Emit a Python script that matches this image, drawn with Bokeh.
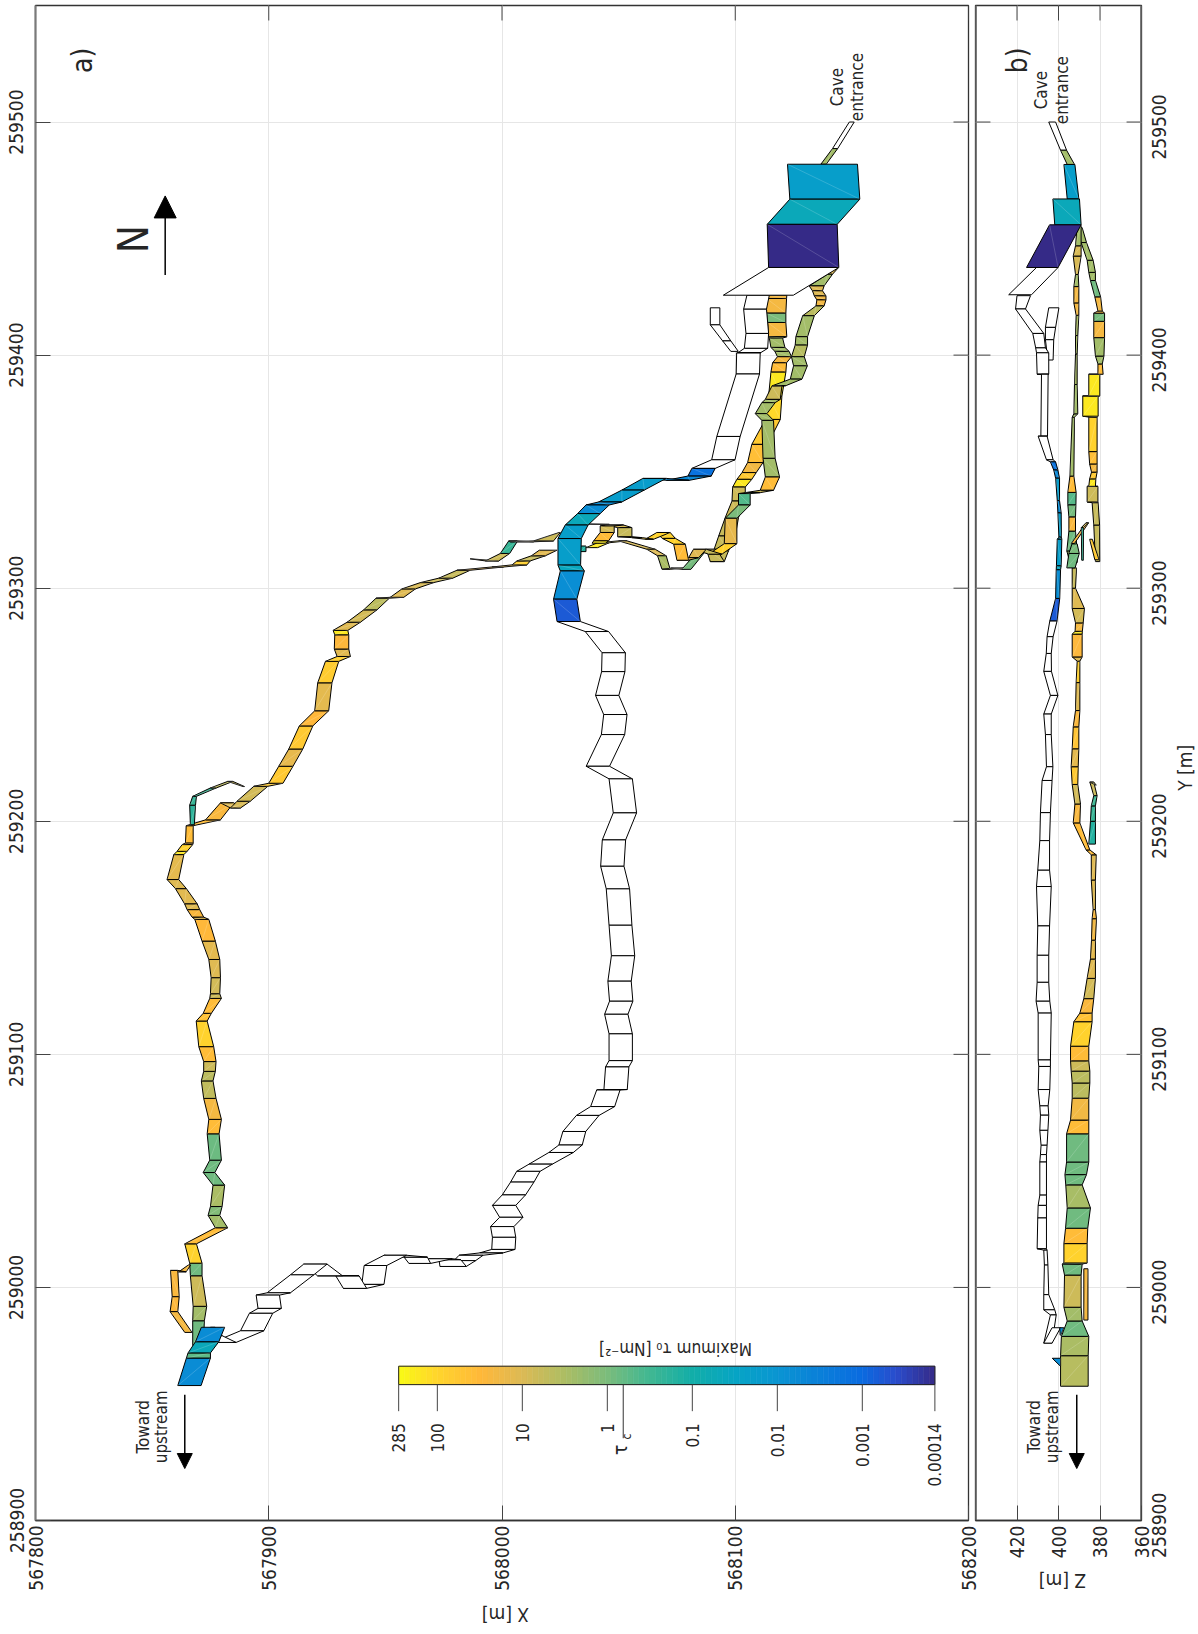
from math import pi, log10, isnan
import numpy as np
from bokeh.plotting import figure
from bokeh.models import FixedTicker, PrintfTickFormatter, Arrow, NormalHead
from bokeh.layouts import row, column
from bokeh.core.properties import value
from bokeh.embed import file_html
from bokeh.resources import INLINE

W = float("nan")  # dry section: no shear stress value

X_TICKS = [567800, 567900, 568000, 568100, 568200]
Y_TICKS = [258900, 259000, 259100, 259200, 259300, 259400, 259500]
Z_TICKS = [360, 380, 400, 420]

# colour scale: maximum shear stress
CM_TAU = [285, 100, 30, 10, 3.4, 1, 0.35, 0.1, 0.03, 0.01, 0.001, 0.0004, 0.00014]
CM_HEX = ["#f9fb15", "#ffd52c", "#ffb83a", "#dcba55", "#b0bd62", "#7bbc7c", "#45b890", "#12aea8",
          "#06a4c5", "#0a95d2", "#0a6be0", "#2a4ccc", "#352a87"]
CB_TICKS = [285, 100, 10, 1, 0.1, 0.01, 0.001, 0.00014]
CB_LABELS = ["285", "100", "10", "1", "0.1", "0.01", "0.001", "0.00014"]
TAU_C = 0.65

# plan view sections: (Y, X left, X right, tau of the segment toward the next row)
plan_entrance = [(259500, 568148.9, 568151, W), (259488.6, 568141.7, 568143.9, 2.5), (259481.9, 568136.7, 568139, W)]
plan_hall = [(259481.9, 568122.4, 568152.4, 0.02), (259466.9, 568123.4, 568153.4, 0.05),
             (259456.1, 568113.7, 568143.7, 0.00014), (259437.6, 568114.3, 568144.4, W), (259425.7, 568094.9, 568124.9, W)]
plan_spur_white = [(259420.3, 568089.3, 568093.4, W), (259413, 568089.3, 568093.4, W), (259406.1, 568094.6, 568098.1, W), (259401.6, 568098.1, 568101.3, W)]
plan_upper = [
    (259425.7, 568105, 568114.6, W), (259419.7, 568103.6, 568113.4, W), (259409.3, 568104.6, 568114.3, W),
    (259402.9, 568103.9, 568113.9, W), (259401.1, 568101.3, 568111, W), (259400.9, 568100.6, 568110.7, W),
    (259391.9, 568100.4, 568110.4, W), (259365.1, 568092.1, 568102.1, W), (259355.1, 568089.9, 568099.9, W),
    (259351.4, 568081.4, 568091.4, 0.0015), (259348.1, 568079.7, 568089.7, 0.005), (259346.3, 568070.4, 568080.4, 0.005),
    (259347.1, 568060.4, 568070.4, 0.018), (259342.1, 568051.4, 568061, 0.018), (259337, 568041.4, 568051.4, 0.006),
    (259335.7, 568036, 568046, 0.006), (259332, 568032.4, 568042.1, 0.05), (259327.1, 568027.1, 568036.9, 0.02),
    (259321.3, 568024, 568034, 0.02), (259309.9, 568024, 568033.7, 0.04), (259307.4, 568025, 568035.3, 0.007),
    (259295.3, 568022.1, 568032.1, 0.0006), (259285.7, 568023.6, 568033.6, W), (259281.4, 568035.7, 568045.7, W),
    (259272.3, 568042.9, 568052.9, W), (259264.2, 568042.7, 568052.7, W), (259254, 568040.1, 568050.1, W),
    (259245.8, 568043.6, 568053.6, W), (259237.2, 568042.6, 568052.6, W), (259223.6, 568036.1, 568046.1, W),
    (259218.2, 568045.9, 568055.9, W), (259203.6, 568047.7, 568057.7, W), (259192, 568043, 568053, W),
    (259180.7, 568042.3, 568052.3, W), (259171, 568044.7, 568054.7, W), (259155.4, 568045.9, 568055.7, W),
    (259142.3, 568046.9, 568056.9, W), (259131.4, 568045.4, 568055.4, W), (259122.8, 568046.1, 568056.1, W),
    (259117.2, 568044, 568054, W), (259108.8, 568045.9, 568055.9, W), (259097.3, 568045.9, 568055.9, W),
    (259094.6, 568044.4, 568054.4, W), (259084.9, 568043.7, 568053.7, W), (259084.7, 568040.6, 568050.6, W),
    (259077.6, 568038, 568048.3, W), (259073.8, 568031.9, 568041.6, W), (259066.9, 568026.1, 568035.9, W),
    (259061.1, 568024.4, 568034.4, W), (259057.9, 568020.1, 568030.6, W), (259052.9, 568011.6, 568021.6, W),
    (259049.8, 568006.3, 568016.3, W), (259045.2, 568003.7, 568013.7, W), (259039.7, 568000.1, 568010.1, W),
    (259035.2, 567995.9, 568005.9, W), (259030.1, 567999, 568009, W), (259026.1, 567995.1, 568005.1, W),
    (259021.5, 567995.9, 568005.9, W), (259016.3, 567995.6, 568005.6, W), (259014.8, 567990.4, 568000.4, W),
    (259013.8, 567981.6, 567991.9, W), (259011.5, 567979.4, 567988.7, W), (259009, 567973.4, 567984.7, W),
    (259011.9, 567973, 567982.3, W), (259012.3, 567968.7, 567978.7, W), (259010.3, 567960.1, 567969.4, W),
    (259013, 567958, 567968, W), (259013.8, 567949.4, 567959.1, W), (259009.4, 567940.9, 567950.6, W),
    (259001.3, 567939.9, 567949.4, W), (258999.6, 567932, 567942, W), (259005, 567928.7, 567938.7, W),
    (259005, 567920.9, 567931.6, W), (259010, 567915, 567925, W), (259005.4, 567909.3, 567919.3, W),
    (258997.7, 567899.3, 567909.3, W), (258996.7, 567894.6, 567904.6, W), (258991, 567895.4, 567905.4, W),
    (258988.9, 567891.7, 567901.7, W), (258981.4, 567887.9, 567897.9, W), (258976.4, 567876, 567886, W),
    (258979.3, 567873, 567880, W), (258982.9, 567875, 567877, W)]
plan_up_blue = [(258957.9, 567861, 567871, 0.006), (258969.7, 567864.7, 567875, 0.55), (258971.9, 567865.4, 567875, 0.05),
                (258976.7, 567868.6, 567878.6, 0.006), (258982.9, 567871.1, 567881.1, W)]
plan_lower = [
    (258975, 567867.4, 567872, 0.8), (258985.7, 567867.4, 567872.4, 2.5), (258991.9, 567867.6, 567873.4, 7),
    (259005, 567866.4, 567871.4, 0.8), (259010.4, 567866.1, 567871.4, 90), (259018.7, 567864, 567869, 35),
    (259025.6, 567877.1, 567882.4, 2.5), (259030.9, 567874, 567879, 1.2), (259034.7, 567875, 567880, 3),
    (259043.9, 567876.1, 567881.1, 0.8), (259049.3, 567871.9, 567876.9, 0.8), (259054.6, 567874.7, 567879.7, 0.75),
    (259065.9, 567873.6, 567878.7, 35), (259072.1, 567874.3, 567879.7, 22), (259081.1, 567872.1, 567877.4, 5),
    (259088.6, 567871.1, 567876.1, 4.5), (259092.7, 567872.1, 567877.1, 7), (259096.9, 567872.1, 567877.4, 35),
    (259103.3, 567870, 567876.4, 90), (259114.3, 567868.9, 567873.6, 45), (259117.6, 567871.9, 567875.4, 35),
    (259124, 567874.7, 567879.7, 7), (259126, 567875, 567879, 8), (259132.9, 567875.3, 567879.3, 11),
    (259140.7, 567874.3, 567879, 13), (259148.6, 567871.4, 567877.1, 30), (259157.9, 567868.3, 567874.3, 11),
    (259158.9, 567867.1, 567872.1, 25), (259162.1, 567865, 567870.4, 11), (259164.6, 567863.9, 567869.3, 12),
    (259171.1, 567860, 567864.7, 11), (259175, 567856.4, 567861.4, 13), (259185.7, 567859.3, 567863.6, 170),
    (259187.1, 567860.7, 567865, 90), (259190, 567862.9, 567867.4, 40), (259190.7, 567864.3, 567867.6, 35),
    (259198.1, 567864.6, 567867.6, 35), (259200.6, 567872.9, 567879.3, 25), (259207.9, 567879.3, 567885, 11),
    (259205.7, 567883.6, 567887.9, 9), (259208.6, 567886.4, 567892.1, 8), (259215, 567893.6, 567899.6, 60),
    (259216.3, 567900, 567906.1, 60), (259223.6, 567904.3, 567910.4, 14), (259231, 567908.6, 567914.6, 60),
    (259240.9, 567913.1, 567918.9, 30), (259247.4, 567919.7, 567925.7, 13), (259259.4, 567921, 567927.1, 70),
    (259268.6, 567924.3, 567930, 80), (259270.7, 567929.3, 567935, 12), (259273.9, 567928.1, 567934.3, 28),
    (259280, 567928.3, 567934.3, 170), (259281.9, 567927.6, 567933.9, 11), (259285.4, 567933.6, 567939.3, 8),
    (259290.7, 567940.7, 567946.4, 4.5), (259295.7, 567946, 567951.7, 22), (259296.1, 567952.1, 567957.9, 11),
    (259299.7, 567957.1, 567962.9, 9), (259302.4, 567965, 567970.7, 7), (259304.3, 567972.9, 567978.9, 6),
    (259307.7, 567980.7, 567986.4, 25), (259309.1, 567995.7, 568000.7, 60), (259310, 568004.3, 568010.7, 80),
    (259311.7, 568006.4, 568012.1, 6), (259313.9, 568012.6, 568018.6, 12), (259316.3, 568016, 568023.6, W)]
plan_loop = [(259009.6, 567865.5, 567866.5, 22), (259006.7, 567861.4, 567864.6, 35), (259007.3, 567857.9, 567861, 25),
             (258996, 567858.6, 567861.6, 28), (258989.6, 567857.7, 567861, 22), (258980.7, 567864, 567867.1, W)]
plan_teal_spur = [(259198.5, 567866.4, 567868.1, 0.2), (259206.9, 567866.1, 567868.6, 0.25), (259210.7, 567867.4, 567869, 0.3),
                  (259214.3, 567875, 567877.5, 5), (259217.1, 567882.4, 567884.6, 7), (259214.9, 567889, 567889.6, W)]
plan_spur2 = [(259312.6, 567986.3, 567986.5, 7), (259311.7, 567992.9, 567998.6, 7), (259314.9, 567999.3, 568003.3, 0.25),
              (259320.3, 568002.9, 568006.7, 7), (259319.9, 568003.6, 568013.6, 9), (259320.3, 568013.6, 568022.1, 7),
              (259323.9, 568024.5, 568025, W)]
plan_strand_a = [(259317.4, 568036, 568041, 170), (259319.5, 568041, 568046, 170), (259320.3, 568050, 568053.6, 9),
                 (259316.7, 568062.1, 568065.7, 10), (259313.9, 568066.7, 568070.4, 3), (259308.1, 568068.6, 568072.1, 7),
                 (259308.6, 568072.5, 568078, 7), (259308.1, 568077.1, 568081, 0.9), (259316.3, 568084.3, 568087.6, 0.5),
                 (259316.7, 568087.6, 568092, 6), (259311.4, 568089.3, 568095.3, W)]
plan_teal_box = [(259315.7, 568033.6, 568036, 0.15), (259318.1, 568033.6, 568036, W)]
plan_thin = [(259327.5, 568037, 568038, 9), (259327.4, 568044.3, 568046, W)]
plan_strand_e = [
    (259425.7, 568114.6, 568122.1, 22), (259424.3, 568113.4, 568122, 22), (259418, 568113.4, 568121.7, 1),
    (259414, 568113.9, 568121.7, 22), (259407.9, 568114.3, 568122.1, 2.5), (259407.3, 568114.6, 568120.3, 2.5),
    (259403.3, 568115.3, 568121.3, 2.5), (259401.6, 568117, 568123.1, 2.5), (259399.3, 568118.1, 568124.1, 22),
    (259396.7, 568116, 568122, 35), (259392.7, 568115.3, 568121.7, 170), (259382.4, 568114.3, 568120, 110),
    (259372.4, 568112.9, 568119.3, 60), (259361.7, 568107.1, 568113.9, 40), (259353.9, 568105.3, 568111.9, 20),
    (259349.6, 568102.9, 568109, 60), (259346.7, 568100.7, 568107.1, 170), (259343.4, 568098.9, 568104.3, 7),
    (259337.4, 568098.6, 568104.3, 7), (259330.3, 568095.7, 568101.4, 6), (259322.4, 568092.9, 568100, 6),
    (259316, 568090.7, 568097.1, 6), (259311.4, 568089.3, 568095.3, W)]
plan_strand_r2 = [
    (259437.6, 568141.7, 568144.3, 11), (259434.7, 568139.6, 568141.7, 2.5), (259429.7, 568131.7, 568138.1, 11),
    (259427.6, 568133.1, 568137.4, 11), (259425.4, 568133.9, 568138.9, 20), (259423.7, 568135, 568138.9, 20),
    (259421.1, 568134.6, 568138.1, 4.5), (259416.9, 568128.9, 568133.9, 2.5), (259407.9, 568126, 568131, 2.5),
    (259404.3, 568125.7, 568131, 4), (259399.3, 568124.1, 568129.6, 2.5), (259395.4, 568125, 568130.9, 2.5),
    (259389.7, 568123.6, 568128.6, 2.5), (259386.9, 568116, 568121.7, 7), (259386.7, 568115.7, 568120, 7),
    (259381, 568112.9, 568119.3, 2.5), (259379.6, 568111.4, 568117.1, 2.5), (259374.9, 568108.6, 568113.6, 2.5),
    (259372, 568111.4, 568116.4, 2.5), (259355.7, 568111.9, 568117.1, 2.5), (259347.7, 568112.9, 568119, 35),
    (259342, 568110.7, 568116.4, 7), (259341, 568104.3, 568110.7, 0.45), (259340.6, 568101.4, 568106.4, 0.45),
    (259335.7, 568101.4, 568106.4, 1), (259330, 568095.7, 568100.7, 14), (259319.1, 568095.3, 568100.7, 90),
    (259314.6, 568088.6, 568094.3, 6), (259316.7, 568082.1, 568087.6, 11), (259313.1, 568080, 568084.3, 11),
    (259312, 568075, 568080, 35), (259318.9, 568073.6, 568078.6, 90), (259321.4, 568068.6, 568074.3, 90),
    (259323.9, 568066.4, 568072.1, 90), (259321, 568061.4, 568065, 90), (259321.7, 568055.7, 568060, 6),
    (259322.1, 568049.6, 568055.7, 6), (259326, 568049.6, 568055.7, 9), (259327.1, 568044.3, 568052.1, 9),
    (259326.7, 568042.1, 568048.1, 8), (259323.9, 568042.1, 568048.1, 35), (259320.3, 568039.3, 568045.7, 170),
    (259319.3, 568038.6, 568044.3, W)]

# profile sections: (Y, Z top, Z bottom, tau of the segment toward the next row)
side_entrance = [(259500, 404.7, 401.4, W), (259487.9, 399, 396.1, 2.5), (259481.8, 395.8, 392.3, W)]
side_a = [(259481.8, 397.4, 392.1, 0.02), (259467, 395.8, 390.2, W)]
side_b = [(259467, 402.7, 389.9, 0.05), (259455.9, 401.8, 389.1, W)]
side_c = [(259455.9, 404.3, 389.1, 0.00014), (259437.6, 415.4, 400.2, W)]
side_d = [(259437.6, 410.6, 400.2, W), (259425.9, 424, 413, W)]
side_spur_white = [(259420.3, 404.7, 399.8, W), (259411.9, 406.3, 401.4, W), (259406.6, 406.3, 402.3, W), (259397.9, 405.1, 402.6, W)]
side_upper = [
    (259425.5, 420, 413.5, W), (259419.8, 420.7, 415.9, W), (259409.3, 412.4, 407.1, W), (259403.1, 411, 406.3, W),
    (259401, 410.6, 404.7, W), (259391.8, 410.3, 404.7, W), (259391.8, 408.2, 405, W), (259365.2, 408.5, 405.3, W),
    (259365.2, 409.8, 405.5, W), (259355.1, 405.8, 402.6, W), (259354.2, 403.9, 401.4, 0.0015),
    (259350.7, 402.3, 400.3, 0.005), (259347.2, 401.4, 399.5, 0.018), (259337.6, 400.6, 399.5, 0.006),
    (259332.3, 400.3, 398.7, 0.02), (259321.9, 399.8, 398.6, 0.02), (259321, 400.6, 398.4, 0.02), (259309.6, 401, 398.7, 0.04),
    (259307.9, 401.1, 399, 0.007), (259295.6, 401.4, 399.4, 0.0006), (259285.9, 404.2, 400.7, W),
    (259279.2, 405.5, 402.6, W), (259272, 405.9, 403.5, W), (259264.3, 407.1, 403.4, W), (259254, 403.9, 400.3, W),
    (259246, 407.1, 403.5, W), (259237.2, 406.3, 403.5, W), (259223.4, 405.8, 402.7, W), (259217.5, 407.9, 403.1, W),
    (259203.7, 408.7, 403.9, W), (259191.7, 409, 404.3, W), (259179, 410, 404.3, W), (259172, 410.6, 403.5, W),
    (259155.1, 410, 404.3, W), (259142.5, 410.3, 404.7, W), (259130.9, 410.3, 404.7, W), (259122.8, 410.8, 404.2, W),
    (259117.7, 409.8, 403.5, W), (259097.6, 409.8, 403.9, W), (259094.8, 409.5, 403.9, W), (259084.9, 409.8, 404.2, W),
    (259077.9, 409, 405, W), (259073.9, 408.7, 404.7, W), (259067.4, 409, 405.1, W), (259061, 408.4, 405.5, W),
    (259057, 408.7, 405.8, W), (259053.8, 409, 405.8, W), (259039.6, 409, 405.8, W), (259035.2, 409.8, 405.8, W),
    (259029.8, 410, 405.8, W), (259016.6, 410.3, 405.8, W), (259016, 407.1, 405.5, W), (259009.6, 406.8, 405.1, W),
    (258996.9, 407.1, 404.7, W), (258990.4, 407.1, 401.8, W), (258988.2, 403.9, 401.1, W), (258976.1, 407.1, 403.1, W),
    (258982.7, 403.1, 399, W)]
side_lower = [
    (258957.6, 399, 385.7, 4), (258970.7, 399, 385.7, 3), (258979, 398.6, 385.4, 0.8), (258985.6, 395.8, 388.6, 2.5),
    (258991.5, 397.4, 389.1, 7), (259005.3, 397.1, 389.1, 0.8), (259010, 398.2, 388.6, 0.8), (259010.5, 397.4, 386.2, 90),
    (259018.8, 397.4, 386.2, 35), (259025.4, 396.6, 385.9, 0.8), (259034.1, 395.8, 384.6, 2.8), (259044, 396.5, 388.6, 0.8),
    (259048.4, 396.9, 386.5, 0.8), (259053.8, 396.1, 385.4, 0.8), (259065.9, 396.1, 385.4, 35), (259071.8, 394.2, 385.4, 20),
    (259081.2, 393.4, 385.4, 4.5), (259087.7, 393.4, 384.9, 4.5), (259092.8, 393.9, 384.9, 7), (259097.2, 394.2, 385.4, 35),
    (259103.5, 394.2, 385.4, 90), (259114, 392.6, 383.8, 45), (259117.7, 389.7, 383.8, 25), (259123.9, 387.8, 383, 8),
    (259132.6, 386.2, 382.2, 11), (259140.9, 384.6, 382.2, 13), (259149, 384.1, 382.2, 20), (259158.2, 383.8, 381.7, 25),
    (259162.1, 383.3, 382.2, 11), (259174.8, 384.2, 382.2, 11), (259185.6, 384.2, 381.8, 35), (259187.7, 386.7, 384.9, 35),
    (259199.3, 392.9, 389.7, 25), (259207.4, 392.1, 389.4, 8), (259215.8, 393.4, 390.7, 60), (259223.4, 393.9, 390.5, 13),
    (259231.1, 393.4, 390.2, 50), (259240.5, 392.9, 390.2, 25), (259247.5, 391.8, 389.7, 11), (259259.5, 391.5, 389.7, 80),
    (259268.7, 391, 389.7, 11), (259270.5, 393.4, 388.6, 28), (259280.3, 393.4, 388.6, 170), (259281.5, 392, 388.5, 22),
    (259285.1, 391.8, 388.1, 8), (259291.3, 393.4, 387.5, 11), (259300, 393.4, 391.8, 6), (259308.7, 393.4, 391.3, W)]
side_mid = [
    (259311, 394.5, 391, 2.5), (259316, 396, 391, 0.8), (259324.5, 395, 391.8, 25), (259330.6, 395, 391.8, 0.9),
    (259335.8, 395.5, 391.6, 0.5), (259341.1, 395.5, 391.5, 35), (259348.1, 394.5, 392.6, 2.5), (259373.4, 393.4, 392.3, 2.5),
    (259374.8, 392.6, 390.7, 2.5), (259387.4, 392.3, 391, 3), (259400.5, 391.8, 391, 3), (259408.4, 391.8, 390.7, 3),
    (259417.1, 391.5, 390.2, 22), (259422.4, 392.6, 390.2, 22), (259429.4, 392.6, 390.2, 2.5), (259434.6, 391.8, 390.5, 9),
    (259442.5, 392.9, 389.1, 9), (259446.9, 391.8, 389.1, 2.5), (259455.6, 391, 389.1, W)]
side_low = [
    (259311.4, 382.2, 380.1, 6), (259327.1, 383, 380.2, 6), (259336.7, 383.8, 380.9, 7), (259337, 386.2, 381, 7),
    (259343.7, 386.2, 381, 170), (259343.7, 385.4, 382.2, 170), (259346.9, 385, 382, 60), (259349.8, 384.1, 381.4, 22),
    (259353.3, 385, 381.4, 40), (259358.6, 385.4, 381.4, 90), (259373.4, 385.4, 381.4, 130), (259373.8, 388.3, 380.9, 170),
    (259382.5, 388.3, 380.9, 170), (259382.5, 385.4, 380.1, 170), (259391.8, 385.4, 380.1, 40), (259391.8, 381, 378.5, 35),
    (259396.2, 381, 378.9, 2.5), (259399.6, 382.2, 378.1, 2.5), (259407.5, 383, 377.8, 22), (259414.5, 383, 377.8, 0.9),
    (259418, 383, 377.8, 22), (259418.9, 381, 378.9, 22), (259425, 382.5, 379.7, 0.8), (259432, 384.6, 382.2, 2.5),
    (259435.5, 385.4, 382.2, 2.5), (259440.7, 386.2, 383.3, 2.5), (259448.3, 389.1, 386.5, 2.5), (259454.7, 391, 388.6, W)]
side_teal = [(259190.2, 385.4, 382.2, 0.15), (259200, 384.6, 382.2, 0.25), (259206.6, 384.2, 382.2, 0.3),
             (259211, 383, 381.4, 7), (259216.8, 384.9, 383, 5), (259215.5, 382, 381.8, W)]
side_loop = [(258986, 387.8, 385.8, 22), (259008, 387.8, 385.8, W)]
side_tri1 = [(258966.3, 399.2, 399, 0.006), (258969.6, 403, 399, W)]
side_tri2 = [(258979.5, 399.2, 399, 0.006), (258982.7, 399.4, 397.4, W)]
side_c1 = [(259321, 385, 383.7, 60), (259312.2, 382.5, 380.5, W)]
side_c2 = [(259308.7, 396, 392, 0.8), (259314.9, 395, 390, 1.0), (259319, 393.5, 391, W)]
side_c3 = [(259319.2, 393.8, 392.3, 25), (259328, 386.8, 385.5, 8), (259326, 389, 388, 0.25), (259312, 388.8, 388, W)]

FONT = "DejaVu Sans Condensed"
TICK_M = 6.43          # 15 px of tick, in metres
TICK_Z = 7.2           # 15 px of tick, in metres of Z

_lt = np.log10(np.array(CM_TAU))[::-1]
_rgb = np.array([[int(h[i:i + 2], 16) for i in (1, 3, 5)] for h in CM_HEX], float)[::-1]


def tau_color(t):
    if t is None or isnan(t):
        return "#ffffff"
    lv = log10(t)
    c = [int(round(np.interp(lv, _lt, _rgb[:, k]))) for k in range(3)]
    return "#%02x%02x%02x" % tuple(c)


def draw_sections(fig, rows):
    xs, ys, cols, dx, dy = [], [], [], [], []
    for a, b in zip(rows[:-1], rows[1:]):
        xs.append([a[1], a[2], b[2], b[1]])
        ys.append([a[0], a[0], b[0], b[0]])
        cols.append(tau_color(a[3]))
        if not isnan(a[3]):
            dx.append([a[1], b[2]])
            dy.append([a[0], b[0]])
    fig.patches(xs, ys, fill_color=cols, line_color="black", line_width=1.0)
    if dx:
        fig.multi_line(dx, dy, line_color="white", line_alpha=0.25, line_width=0.7)


def dress(fig, xticks, yticks):
    fig.grid.grid_line_color = "#e6e6e6"
    fig.grid.grid_line_width = 1
    fig.xgrid.ticker = FixedTicker(ticks=xticks)
    fig.ygrid.ticker = FixedTicker(ticks=yticks)
    fig.outline_line_color = "#333333"
    fig.outline_line_width = 1.3


def style_axis(a, ticks, grey=False):
    a.ticker = FixedTicker(ticks=ticks)
    a.formatter = PrintfTickFormatter(format="%d")
    a.major_tick_in = 15
    a.major_tick_out = 0
    a.minor_tick_in = 0
    a.minor_tick_out = 0
    a.major_tick_line_color = "#444444"
    a.major_tick_line_width = 1
    a.axis_line_color = "#7a7a7a" if grey else "#333333"
    a.axis_line_width = 2 if grey else 1.3
    a.major_label_orientation = pi / 2
    a.major_label_text_font = FONT
    a.major_label_text_color = "#262626"
    a.major_label_text_font_size = "19px"


def bare(fig):
    fig.axis.visible = False
    fig.grid.visible = False
    fig.outline_line_color = None
    fig.background_fill_color = None
    fig.border_fill_color = None


pa = figure(frame_width=933, frame_height=1515, x_range=(567800, 568200), y_range=(258900, 259550),
            min_border_left=35, min_border_right=12, min_border_top=5, min_border_bottom=114,
            output_backend="svg", toolbar_location=None)
pb = figure(frame_width=166, frame_height=1515, x_range=(440, 360), y_range=(258900, 259550),
            min_border_left=4, min_border_right=12, min_border_top=5, min_border_bottom=114,
            output_backend="svg", toolbar_location=None, margin=(0, 0, 0, -9))
pb.border_fill_color = None
# strip at the right: the Y tick labels of panel b read upward, on the same Y and Z scales
pc = figure(frame_width=67, frame_height=1634, x_range=(359.4, 327.1), y_range=(258851, 259552.1),
            min_border_left=0, min_border_right=0, min_border_top=0, min_border_bottom=0,
            output_backend="svg", toolbar_location=None, margin=(0, 0, 0, -11))
bare(pc)
# strip at the bottom: the axis titles, upside down like the whole sheet
ps = figure(frame_width=1198, frame_height=64, x_range=(567785, 568298.6), y_range=(258851, 258878.5),
            min_border_left=0, min_border_right=0, min_border_top=0, min_border_bottom=0,
            output_backend="svg", toolbar_location=None, margin=(-64, 0, 0, 0))
bare(ps)

dress(pa, X_TICKS, Y_TICKS)
dress(pb, Z_TICKS, Y_TICKS)

style_axis(pa.xaxis[0], X_TICKS)
pa.xaxis[0].major_label_standoff = 5
style_axis(pa.yaxis[0], Y_TICKS, grey=True)
pa.yaxis[0].major_label_orientation = "parallel"
pa.yaxis[0].major_label_standoff = 12

style_axis(pb.xaxis[0], Z_TICKS)
pb.xaxis[0].major_label_standoff = 5
pb.yaxis.visible = False

# the box ticks of the sides without an axis
pa.segment(X_TICKS, 259550, X_TICKS, 259550 - TICK_M, line_color="#444444", line_width=1)
pa.segment(568200, Y_TICKS, 568200 - TICK_M, Y_TICKS, line_color="#444444", line_width=1)
pb.segment(Z_TICKS, 259550, Z_TICKS, 259550 - TICK_M, line_color="#444444", line_width=1)
pb.segment(440, Y_TICKS, 440 - TICK_Z, Y_TICKS, line_color="#444444", line_width=1)
pb.segment(360, Y_TICKS, 360 + TICK_Z, Y_TICKS, line_color="#444444", line_width=1)
pb.segment([440, 360], 258900, [440, 360], 259550, line_color="#7a7a7a", line_width=3)

for rows in (plan_lower, plan_loop, plan_teal_spur, plan_spur2, plan_strand_e, plan_strand_a, plan_strand_r2,
             plan_teal_box, plan_thin, plan_spur_white, plan_upper, plan_up_blue, plan_entrance, plan_hall):
    draw_sections(pa, rows)

for rows in (side_spur_white, side_upper, side_d, side_entrance, side_lower, side_loop, side_tri1, side_tri2,
             side_teal, side_low, side_mid, side_c3, side_c1, side_c2, side_a, side_b, side_c):
    draw_sections(pb, rows)

# colour bar, on the log scale of the shear stress
BAR_X0, BAR_K = 567955.7, 36.44
BAR_Y0, BAR_Y1 = 258958.3, 258966.2


def bar_x(v):
    return BAR_X0 + (log10(285) - log10(v)) * BAR_K


edges = np.logspace(log10(285), log10(0.00014), 97)
_bar_cols = [tau_color(float(np.sqrt(a * b))) for a, b in zip(edges[:-1], edges[1:])]
pa.quad(left=[bar_x(v) for v in edges[:-1]], right=[bar_x(v) for v in edges[1:]], bottom=BAR_Y0, top=BAR_Y1,
        fill_color=_bar_cols, line_color=_bar_cols, line_width=0.6)
pa.quad(left=[bar_x(285)], right=[bar_x(0.00014)], bottom=BAR_Y0, top=BAR_Y1, fill_color=None, line_color="#222222", line_width=1)
pa.segment([bar_x(v) for v in CB_TICKS], BAR_Y0, [bar_x(v) for v in CB_TICKS], 258946.9, line_color="#444444", line_width=1)
pa.segment([bar_x(TAU_C)], BAR_Y0, [bar_x(TAU_C)], 258935.3, line_color="#333333", line_width=1)
pa.text([bar_x(v) for v in CB_TICKS], 258941.7, text=CB_LABELS, angle=pi / 2, text_align="right", text_baseline="middle",
        text_font=value(FONT), text_font_size="17px", text_color="#262626")
pa.text([bar_x(TAU_C) - 1.3], 258932.5, text=["τ"], angle=pi / 2, text_align="right", text_baseline="middle",
        text_font=value(FONT), text_font_size="19px", text_color="#262626")
pa.text([bar_x(TAU_C) + 1.6], 258936, text=["c"], angle=pi / 2, text_align="center", text_baseline="middle",
        text_font=value(FONT), text_font_size="12px", text_color="#262626")
pa.text([568074.4], [258973.5], text=["Maximum τ₀ [Nm⁻²]"], angle=pi, text_align="center", text_baseline="middle",
        text_font=value(FONT), text_font_size="17px", text_color="#262626")


def rot_text(fig, x, y, s, size, angle=pi / 2):
    fig.text([x], [y], text=[s], angle=angle, text_align="center", text_baseline="middle",
             text_font=value(FONT), text_font_size=size, text_color="#262626")


rot_text(pa, 567820, 259526.5, "a)", "28px")
rot_text(pb, 419.8, 259526.5, "b)", "28px")
rot_text(pa, 567842, 259449.8, "N", "42px")
rot_text(pa, 568143.8, 259515, "Cave", "17px")
rot_text(pa, 568152, 259515, "entrance", "17px")
rot_text(pb, 408.2, 259513.7, "Cave", "17px")
rot_text(pb, 398.3, 259513.7, "entrance", "17px")
rot_text(pa, 567846.2, 258940.2, "Toward", "17px")
rot_text(pa, 567854, 258940.2, "upstream", "17px")
rot_text(pb, 412, 258940.2, "Toward", "17px")
rot_text(pb, 403, 258940.2, "upstream", "17px")

for y in Y_TICKS:
    rot_text(pc, 351.6, y, str(y), "19px")
rot_text(pc, 339.1, 259225, "Y [m]", "19px")
rot_text(ps, 568001.5, 258859.2, "X [m]", "19px", angle=pi)
rot_text(ps, 568240.3, 258874.2, "Z [m]", "19px", angle=pi)

pa.add_layout(Arrow(end=NormalHead(size=22, fill_color="black", line_color="black"), x_start=567855.6, y_start=259434.4,
                    x_end=567855.6, y_end=259468.3, line_color="black", line_width=1.5))
pa.add_layout(Arrow(end=NormalHead(size=15, fill_color="black", line_color="black"), x_start=567864, y_start=258954,
                    x_end=567864, y_end=258922.3, line_color="black", line_width=1.5))
pb.add_layout(Arrow(end=NormalHead(size=15, fill_color="black", line_color="black"), x_start=391.2, y_start=258954,
                    x_end=391.2, y_end=258922.3, line_color="black", line_width=1.5))

layout = column(row(pa, pb, pc, spacing=0), ps, spacing=0)
open("out.html", "w").write(file_html(layout, INLINE))
